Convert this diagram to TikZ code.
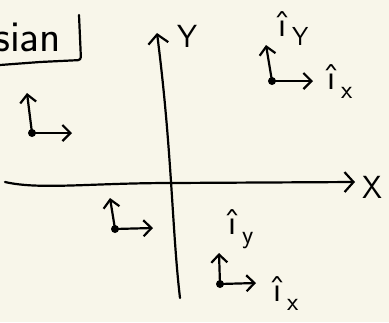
\documentclass[tikz,border=0pt]{standalone}
\usepackage{xcolor}
\usetikzlibrary{arrows.meta}
\definecolor{paper}{HTML}{F8F6EA}
\newcommand{\unitvec}[1]{\^{\i}\,\raisebox{-9pt}{\fontsize{26}{28}\selectfont #1}}
\begin{document}
\begin{tikzpicture}[x=1pt, y=-1pt,
        axis/.style={line width=2.2pt, line cap=round, -{Straight Barb[length=9pt, width=20pt]}},
        basis/.style={line width=2.2pt, line cap=round, -{Straight Barb[length=8pt, width=16pt]}},
        dot/.style={circle, fill=black, inner sep=0pt, minimum size=8pt},
        lbl/.style={font=\sffamily\fontsize{32}{36}\selectfont, inner sep=0pt},
        vec/.style={font=\sffamily\fontsize{36}{40}\selectfont, inner sep=0pt, anchor=base west},
        frame/.style={line width=2.2pt, line cap=round, rounded corners=3pt}
    ]
        \fill[paper] (0,0) rectangle (389,322);
        \useasboundingbox (0,0) rectangle (389,322);

        % title box, cut at the left edge
        \node[lbl, font=\sffamily\fontsize{44}{48}\selectfont, anchor=base west] (title) at (-6,51) {sian};
        \draw[frame] (79,15) -- (81,60) -- (40,62) -- (0,65);

        % axes
        \coordinate (xstart) at (5,182);
        \coordinate (xend) at (355,182);
        \coordinate (ystart) at (180,298);
        \coordinate (yend) at (157,33);
        \draw[axis] (xstart) .. controls (40,190) and (90,183) .. (172,183) -- (xend);
        \draw[axis] (ystart) .. controls (172,230) and (172,150) .. (yend);
        \node[lbl] (ylabel) at (187,36) {Y};
        \node[lbl] (xlabel) at (372,187) {X};

        % basis frames
        \node[dot] (o1) at (32,133) {};
        \coordinate (o1x) at (72,133);
        \coordinate (o1y) at (27,93);
        \node[dot] (o2) at (272,81) {};
        \coordinate (o2x) at (313,81);
        \coordinate (o2y) at (266,45);
        \node[dot] (o3) at (115,229) {};
        \coordinate (o3x) at (153,228);
        \coordinate (o3y) at (110,198);
        \node[dot] (o4) at (220,284) {};
        \coordinate (o4x) at (256,283);
        \coordinate (o4y) at (219,253);
        \foreach \o in {o1,o2,o3,o4} {
            \draw[basis] (\o.center) -- (\o x);
            \draw[basis] (\o.center) -- (\o y);
        }

        % unit vector labels
        \node[vec] (iy1) at (278,36) {\unitvec{Y}};
        \node[vec] (ix1) at (327,89) {\unitvec{x}};
        \node[vec] (iy2) at (228,234) {\unitvec{y}};
        \node[vec] (ix2) at (273,301) {\unitvec{x}};
    \end{tikzpicture}
\end{document}
